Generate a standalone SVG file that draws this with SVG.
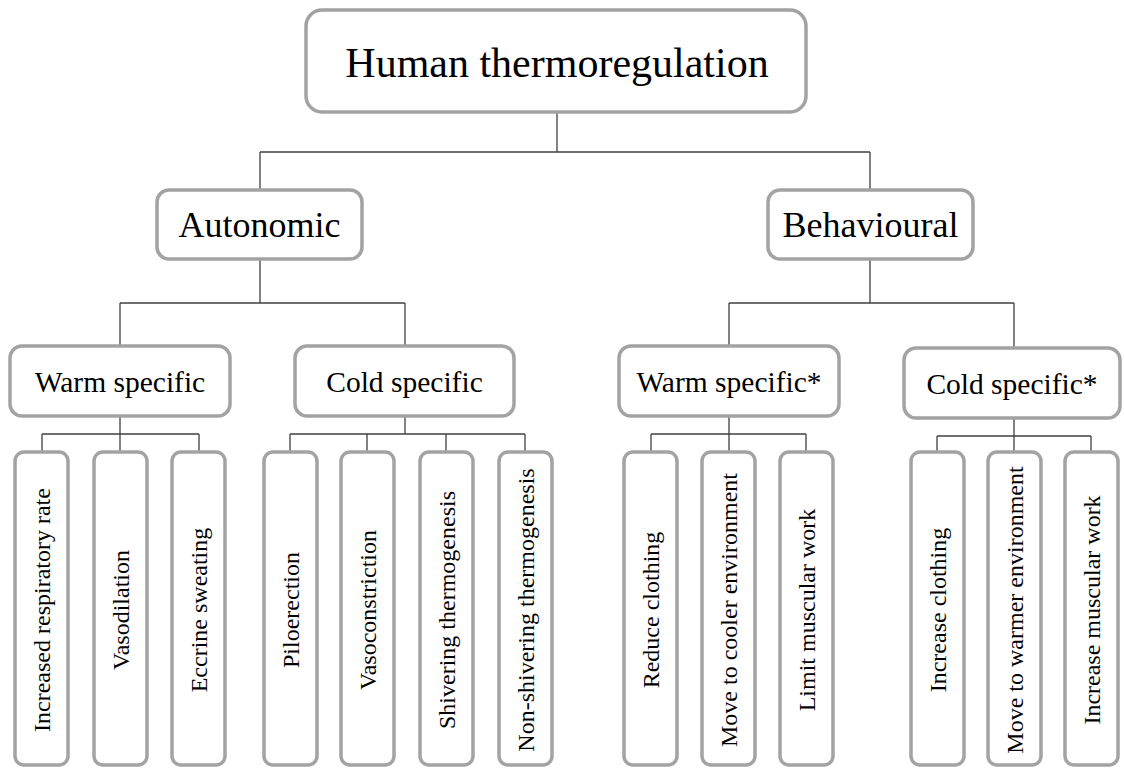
<svg xmlns="http://www.w3.org/2000/svg" width="1124" height="769" viewBox="0 0 1124 769">
<style>
.box{fill:#fff;stroke:#a3a3a3;stroke-width:3.5}
.t{font-family:"Liberation Serif","Times New Roman",serif;fill:#000;text-anchor:middle}
.leaf{font-size:24px}
.conn{fill:none;stroke:#404040;stroke-width:1.3}
</style>
<rect width="1124" height="769" fill="#fff"/>
<g id="connectors" class="conn">
<path d="M557 112V152M260 152H870M260 152V190M870 152V190"/>
<path d="M260 259V303M120 303H405M120 303V346M405 303V346"/>
<path d="M870 259V303M729 303H1014M729 303V346M1014 303V348"/>
<path d="M120 416V434M42 434H199M42 434V452M120 434V452M199 434V452"/>
<path d="M405 416V434M290 434H525M290 434V452M367 434V452M446 434V452M525 434V452"/>
<path d="M729 416V434M651 434H806M651 434V452M729 434V452M806 434V452"/>
<path d="M1014 418V436M937 436H1091M937 436V452M1014 436V452M1091 436V452"/>
</g>
<g id="root"><rect class="box" x="306" y="10" width="500" height="102" rx="16"/><text class="t" x="557" y="77" font-size="42">Human thermoregulation</text></g>
<g id="autonomic"><rect class="box" x="157" y="190" width="205" height="69" rx="12"/><text class="t" x="259.5" y="237" font-size="36">Autonomic</text></g>
<g id="behavioural"><rect class="box" x="768" y="190" width="205" height="69" rx="12"/><text class="t" x="870.5" y="237" font-size="36">Behavioural</text></g>
<g id="auto-warm"><rect class="box" x="10" y="346" width="220" height="70" rx="12"/><text class="t" x="120" y="392" font-size="29.5">Warm specific</text></g>
<g id="auto-cold"><rect class="box" x="295" y="346" width="219" height="70" rx="12"/><text class="t" x="404.5" y="392" font-size="29.5">Cold specific</text></g>
<g id="beh-warm"><rect class="box" x="619" y="346" width="220" height="70" rx="12"/><text class="t" x="729" y="392" font-size="29.5">Warm specific*</text></g>
<g id="beh-cold"><rect class="box" x="904" y="348" width="216" height="70" rx="12"/><text class="t" x="1012" y="394" font-size="29.5">Cold specific*</text></g>
<g id="leaf1"><rect class="box" x="15" y="452" width="53" height="313" rx="9"/><text class="t leaf" transform="translate(41.5 610) rotate(-90)" y="8">Increased respiratory rate</text></g>
<g id="leaf2"><rect class="box" x="94" y="452" width="53" height="313" rx="9"/><text class="t leaf" transform="translate(120.5 610) rotate(-90)" y="8">Vasodilation</text></g>
<g id="leaf3"><rect class="box" x="172" y="452" width="53" height="313" rx="9"/><text class="t leaf" transform="translate(198.5 610) rotate(-90)" y="8">Eccrine sweating</text></g>
<g id="leaf4"><rect class="box" x="264" y="452" width="53" height="313" rx="9"/><text class="t leaf" transform="translate(290.5 610) rotate(-90)" y="8">Piloerection</text></g>
<g id="leaf5"><rect class="box" x="341" y="452" width="53" height="313" rx="9"/><text class="t leaf" transform="translate(367.5 610) rotate(-90)" y="8">Vasoconstriction</text></g>
<g id="leaf6"><rect class="box" x="420" y="452" width="53" height="313" rx="9"/><text class="t leaf" transform="translate(446.5 610) rotate(-90)" y="8">Shivering thermogenesis</text></g>
<g id="leaf7"><rect class="box" x="499" y="452" width="53" height="313" rx="9"/><text class="t leaf" transform="translate(525.5 610) rotate(-90)" y="8">Non-shivering thermogenesis</text></g>
<g id="leaf8"><rect class="box" x="624" y="452" width="53" height="313" rx="9"/><text class="t leaf" transform="translate(650.5 610) rotate(-90)" y="8">Reduce clothing</text></g>
<g id="leaf9"><rect class="box" x="702" y="452" width="53" height="313" rx="9"/><text class="t leaf" transform="translate(728.5 610) rotate(-90)" y="8">Move to cooler environment</text></g>
<g id="leaf10"><rect class="box" x="780" y="452" width="53" height="313" rx="9"/><text class="t leaf" transform="translate(806.5 610) rotate(-90)" y="8">Limit muscular work</text></g>
<g id="leaf11"><rect class="box" x="911" y="452" width="53" height="313" rx="9"/><text class="t leaf" transform="translate(937.5 610) rotate(-90)" y="8">Increase clothing</text></g>
<g id="leaf12"><rect class="box" x="988" y="452" width="53" height="313" rx="9"/><text class="t leaf" transform="translate(1014.5 610) rotate(-90)" y="8">Move to warmer environment</text></g>
<g id="leaf13"><rect class="box" x="1065" y="452" width="53" height="313" rx="9"/><text class="t leaf" transform="translate(1091.5 610) rotate(-90)" y="8">Increase muscular work</text></g>
</svg>
